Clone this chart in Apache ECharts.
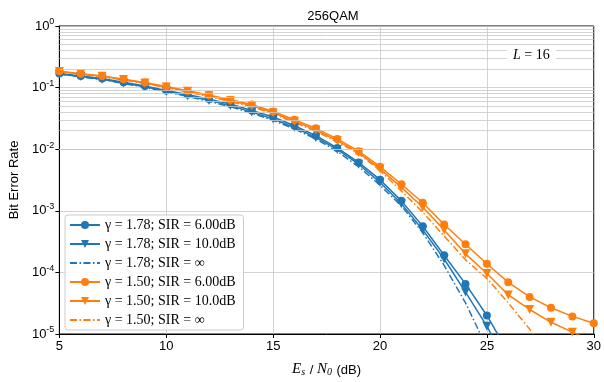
<!DOCTYPE html>
<html>
<head>
<meta charset="utf-8">
<script src="https://cdn.jsdelivr.net/npm/echarts@6/dist/echarts.min.js"></script>
<style>
  html, body { margin: 0; padding: 0; background: #fff; }
  #chart { width: 604px; height: 382px; }
</style>
</head>
<body>
<div id="chart"></div>
<script>
// Es/N0 in dB
var snr = [5, 6, 7, 8, 9, 10, 11, 12, 13, 14, 15, 16, 17, 18, 19, 20, 21, 22, 23, 24, 25, 26, 27, 28, 29, 30];

// gamma = 1.78
var ber178_sir6 = [0.170, 0.155, 0.140, 0.122, 0.106, 0.090, 0.077, 0.065, 0.054, 0.0425, 0.0334, 0.024, 0.0166, 0.0105, 0.0061, 0.0032, 1.45e-3, 5.6e-4, 1.9e-4, 6.5e-5, 2.0e-5, 5e-6];
var ber178_sir10 = [0.167, 0.152, 0.137, 0.119, 0.103, 0.087, 0.074, 0.062, 0.051, 0.040, 0.031, 0.0225, 0.0155, 0.0099, 0.0057, 0.0029, 1.3e-3, 4.9e-4, 1.65e-4, 4.8e-5, 1.34e-5, 3e-6];
var ber178_inf = [0.165, 0.150, 0.135, 0.117, 0.101, 0.085, 0.072, 0.060, 0.049, 0.0385, 0.0295, 0.0213, 0.0147, 0.0092, 0.0052, 0.0026, 1.2e-3, 4.4e-4, 1.3e-4, 3.2e-5, 6e-6];

// gamma = 1.50
var ber150_sir6 = [0.185, 0.168, 0.155, 0.137, 0.121, 0.104, 0.089, 0.076, 0.0634, 0.053, 0.041, 0.030, 0.0218, 0.0147, 0.0093, 0.0052, 0.0027, 1.35e-3, 6.0e-4, 2.86e-4, 1.38e-4, 6.9e-5, 4.0e-5, 2.67e-5, 1.93e-5, 1.49e-5];
var ber150_sir10 = [0.183, 0.166, 0.153, 0.135, 0.119, 0.102, 0.087, 0.074, 0.061, 0.051, 0.039, 0.0285, 0.0205, 0.0138, 0.0088, 0.0048, 0.0024, 1.14e-3, 4.9e-4, 2.0e-4, 9.6e-5, 4.3e-5, 2.5e-5, 1.55e-5, 1.07e-5, 7.5e-6];
var ber150_inf = [0.181, 0.164, 0.151, 0.133, 0.117, 0.100, 0.085, 0.072, 0.059, 0.049, 0.0375, 0.0272, 0.0195, 0.0131, 0.0085, 0.0045, 0.0021, 9.5e-4, 3.9e-4, 1.6e-4, 8.0e-5, 3.2e-5, 1.2e-5, 4e-6];

var seriesNames = [
  'γ = 1.78; SIR = 6.00dB',
  'γ = 1.78; SIR = 10.0dB',
  'γ = 1.78; SIR = ∞',
  'γ = 1.50; SIR = 6.00dB',
  'γ = 1.50; SIR = 10.0dB',
  'γ = 1.50; SIR = ∞'
];

// minor grid lines of the log axis
var decades = [1e-5, 1e-4, 1e-3, 1e-2, 1e-1];
var minorSteps = [2, 3, 4, 5, 6, 7, 8, 9];

var blue = '#1f77b4';
var orange = '#ff7f0e';
var dashDot = [7, 2.5, 1.5, 2.5];

function pairs(vals) {
  return vals.map(function (v, i) { return [snr[i], v]; });
}

var minorLines = [];
decades.forEach(function (d) {
  minorSteps.forEach(function (m) {
    minorLines.push({ yAxis: d * m });
  });
});

function mkSeries(name, vals, color, symbol, rotate, type) {
  return {
    name: name,
    type: 'line',
    data: pairs(vals),
    color: color,
    symbol: symbol,
    symbolSize: symbol === 'circle' ? 8 : 9,
    symbolRotate: rotate,
    showSymbol: symbol !== 'none',
    lineStyle: { width: 1.5, type: type, color: color },
    itemStyle: { color: color },
    emphasis: { disabled: true },
    animation: false,
    z: 3
  };
}

var series = [
  mkSeries(seriesNames[0], ber178_sir6, blue, 'circle', 0, 'solid'),
  mkSeries(seriesNames[1], ber178_sir10, blue, 'triangle', 180, 'solid'),
  mkSeries(seriesNames[2], ber178_inf, blue, 'none', 0, dashDot),
  mkSeries(seriesNames[3], ber150_sir6, orange, 'circle', 0, 'solid'),
  mkSeries(seriesNames[4], ber150_sir10, orange, 'triangle', 180, 'solid'),
  mkSeries(seriesNames[5], ber150_inf, orange, 'none', 0, dashDot)
];

series.push({
  name: 'minor',
  type: 'line',
  data: [],
  silent: true,
  animation: false,
  z: 1,
  markLine: {
    silent: true,
    symbol: 'none',
    label: { show: false },
    animation: false,
    lineStyle: { color: '#c8c8c8', width: 0.8, type: 'solid' },
    data: minorLines
  }
});

var legendData = seriesNames.map(function (n, i) {
  if (i === 2 || i === 5) {
    return { name: n, itemStyle: { opacity: 0 } };
  }
  return { name: n };
});

var chart = echarts.init(document.getElementById('chart'), null, { renderer: 'canvas' });

chart.setOption({
  animation: false,
  backgroundColor: '#fff',
  title: {
    text: '256QAM',
    left: 328,
    textAlign: 'center',
    top: 5,
    textStyle: { fontFamily: 'Liberation Sans', fontSize: 13, fontWeight: 'normal', color: '#000' }
  },
  grid: {
    left: 58, right: 6, top: 26, bottom: 40,
    show: true, borderColor: '#000', borderWidth: 1
  },
  legend: {
    data: legendData,
    orient: 'vertical',
    left: 65,
    top: 215,
    padding: [3, 8, 3, 4],
    itemGap: 5,
    itemWidth: 30,
    itemHeight: 10,
    backgroundColor: 'rgba(255,255,255,0.85)',
    borderColor: '#cccccc',
    borderWidth: 1,
    borderRadius: 3,
    textStyle: { fontFamily: 'Liberation Serif', fontSize: 14, color: '#000' }
  },
  xAxis: {
    type: 'value',
    min: 5, max: 30, interval: 5,
    name: '{i|E}{sub|s}{n| / }{i|N}{sub|0}{n| (dB)}',
    nameLocation: 'middle',
    nameGap: 25,
    nameTextStyle: {
      color: '#000',
      rich: {
        i: { fontFamily: 'Liberation Serif', fontStyle: 'italic', fontSize: 15, color: '#000', verticalAlign: 'bottom', lineHeight: 18 },
        sub: { fontFamily: 'Liberation Serif', fontStyle: 'italic', fontSize: 10, color: '#000', verticalAlign: 'bottom', lineHeight: 14, padding: [0, 1, 0, 0] },
        n: { fontFamily: 'Liberation Sans', fontSize: 13, color: '#000', verticalAlign: 'bottom', lineHeight: 18 }
      }
    },
    axisLine: { lineStyle: { color: '#000', width: 1 } },
    axisTick: { length: 4, lineStyle: { color: '#000' } },
    axisLabel: { fontFamily: 'Liberation Sans', fontSize: 13, color: '#000', margin: 6 },
    splitLine: { show: true, lineStyle: { color: '#c8c8c8', width: 0.8 } }
  },
  yAxis: {
    type: 'log',
    logBase: 10,
    min: 1e-5, max: 1,
    name: 'Bit Error Rate',
    nameLocation: 'middle',
    nameGap: 37,
    nameTextStyle: { fontFamily: 'Liberation Sans', fontSize: 13, color: '#000' },
    axisLine: { lineStyle: { color: '#000', width: 1 } },
    axisTick: { length: 4, lineStyle: { color: '#000' } },
    axisLabel: {
      margin: 5,
      formatter: function (v) {
        var e = Math.round(Math.log10(v));
        return '{b|10}{s|' + e + '}';
      },
      rich: {
        b: { fontFamily: 'Liberation Sans', fontSize: 13, color: '#000' },
        s: { fontFamily: 'Liberation Sans', fontSize: 9, color: '#000', padding: [0, 0, 8, 0] }
      }
    },
    splitLine: { show: true, lineStyle: { color: '#c8c8c8', width: 0.8 } }
  },
  graphic: [{
    type: 'text',
    left: 507,
    top: 45,
    z: 10,
    style: {
      text: '{i|L}{n| = 16}',
      backgroundColor: '#fff',
      padding: [3, 6, 3, 6],
      rich: {
        i: { fontFamily: 'Liberation Serif', fontStyle: 'italic', fontSize: 14, fill: '#000' },
        n: { fontFamily: 'Liberation Serif', fontSize: 14, fill: '#000' }
      }
    }
  }],
  series: series
});
</script>
</body>
</html>
